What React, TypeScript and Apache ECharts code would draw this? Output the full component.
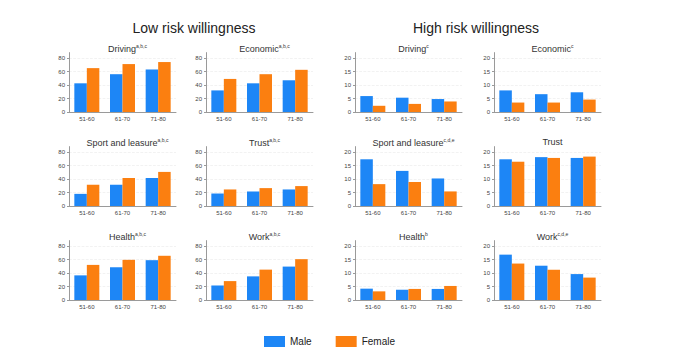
import React, { useEffect, useRef } from "react";
import * as echarts from "echarts";

const ageGroups = ["51-60", "61-70", "71-80"];

const lowDrivingMale = [42.5, 56, 63];
const lowDrivingFemale = [65, 71, 74];
const lowEconomicMale = [32, 42.5, 47];
const lowEconomicFemale = [49, 56, 62.5];
const lowSportMale = [18, 31.5, 41.5];
const lowSportFemale = [31.5, 41.5, 50.5];
const lowTrustMale = [18.5, 21.5, 24.5];
const lowTrustFemale = [24.5, 26.5, 29.5];
const lowHealthMale = [36.5, 48.5, 59];
const lowHealthFemale = [52, 59.5, 65.5];
const lowWorkMale = [21.5, 35, 49.5];
const lowWorkFemale = [28, 45, 60.5];

const highDrivingMale = [5.9, 5.3, 4.8];
const highDrivingFemale = [2.3, 3.0, 3.9];
const highEconomicMale = [8.0, 6.6, 7.3];
const highEconomicFemale = [3.5, 3.5, 4.6];
const highSportMale = [17.3, 13.0, 10.2];
const highSportFemale = [8.1, 8.9, 5.4];
const highTrustMale = [17.3, 18.1, 17.8];
const highTrustFemale = [16.4, 17.8, 18.3];
const highHealthMale = [4.2, 3.8, 4.1];
const highHealthFemale = [3.2, 4.1, 5.2];
const highWorkMale = [16.8, 12.7, 9.6];
const highWorkFemale = [13.5, 11.2, 8.3];

const lowTicks = [0, 20, 40, 60, 80];
const highTicks = [0, 5, 10, 15, 20];

const groupTitles = ["Low risk willingness", "High risk willingness"];
const seriesNames = ["Male", "Female"];

// panel: [title, superscript, male, female, group(0 low / 1 high), row, col]
const panels: [string, string, number[], number[], number, number, number][] = [
  ["Driving", "a,b,c", lowDrivingMale, lowDrivingFemale, 0, 0, 0],
  ["Economic", "a,b,c", lowEconomicMale, lowEconomicFemale, 0, 0, 1],
  ["Sport and leasure", "a,b,c", lowSportMale, lowSportFemale, 0, 1, 0],
  ["Trust", "a,b,c", lowTrustMale, lowTrustFemale, 0, 1, 1],
  ["Health", "a,b,c", lowHealthMale, lowHealthFemale, 0, 2, 0],
  ["Work", "a,b,c", lowWorkMale, lowWorkFemale, 0, 2, 1],
  ["Driving", "c", highDrivingMale, highDrivingFemale, 1, 0, 2],
  ["Economic", "c", highEconomicMale, highEconomicFemale, 1, 0, 3],
  ["Sport and leasure", "c,d,e", highSportMale, highSportFemale, 1, 1, 2],
  ["Trust", "", highTrustMale, highTrustFemale, 1, 1, 3],
  ["Health", "b", highHealthMale, highHealthFemale, 1, 2, 2],
  ["Work", "c,d,e", highWorkMale, highWorkFemale, 1, 2, 3],
];

const colLeft = [69, 206, 355, 494];
const rowZero = [112, 206, 300];
const plotW = 107;
const plotH = 59.4;
const BLUE = "#1d86f6";
const ORANGE = "#fb7f10";
const FONT = "Liberation Sans, Arial, sans-serif";

export default function App() {
  const ref = useRef<HTMLDivElement>(null);
  useEffect(() => {
    document.body.style.margin = "0";
    const chart = echarts.init(ref.current!, null, { renderer: "svg" });
    const grids: any[] = [];
    const xAxes: any[] = [];
    const yAxes: any[] = [];
    const series: any[] = [];
    const titles: any[] = [
      {
        text: groupTitles[0],
        left: 189,
        top: 16,
        textAlign: "center",
        textStyle: { fontSize: 14, fontWeight: "normal", color: "#222", fontFamily: FONT },
      },
      {
        text: groupTitles[1],
        left: 471,
        top: 16,
        textAlign: "center",
        textStyle: { fontSize: 14, fontWeight: "normal", color: "#222", fontFamily: FONT },
      },
    ];
    panels.forEach((p, i) => {
      const [name, sup, male, female, grp, row, col] = p;
      const left = colLeft[col];
      const top = rowZero[row] - plotH;
      grids.push({ left, top, width: plotW, height: plotH });
      const ticks = grp === 0 ? lowTicks : highTicks;
      const max = grp === 0 ? 88 : 22;
      titles.push({
        text: sup ? `{n|${name}}{s|${sup}}` : `{n|${name}}`,
        left: left + plotW / 2,
        top: top - 14,
        textAlign: "center",
        textStyle: {
          fontSize: 9,
          fontWeight: "normal",
          color: "#333",
          fontFamily: FONT,
          rich: {
            n: { fontSize: 9, color: "#333", fontFamily: FONT },
            s: { fontSize: 5, color: "#333", fontFamily: FONT, padding: [0, 0, 6, 0] },
          },
        },
      });
      xAxes.push({
        type: "category",
        gridIndex: i,
        data: ageGroups,
        axisLine: { lineStyle: { color: "#9a9a9a", width: 1 } },
        axisTick: { show: false },
        axisLabel: { fontSize: 6, color: "#444", margin: 4, fontFamily: FONT },
      });
      yAxes.push({
        type: "value",
        gridIndex: i,
        min: 0,
        max,
        axisLine: { show: true, lineStyle: { color: "#9a9a9a", width: 1 } },
        axisTick: { show: true, length: 2, customValues: ticks, lineStyle: { color: "#9a9a9a" } },
        axisLabel: { fontSize: 6, color: "#444", margin: 4, customValues: ticks, fontFamily: FONT },
        splitLine: { show: true, lineStyle: { color: "#ececec", type: "dashed", width: 0.7 } },
      });
      series.push({
        type: "bar",
        name: seriesNames[0],
        xAxisIndex: i,
        yAxisIndex: i,
        data: male,
        barWidth: 12.5,
        barGap: "0%",
        itemStyle: { color: BLUE },
      });
      series.push({
        type: "bar",
        name: seriesNames[1],
        xAxisIndex: i,
        yAxisIndex: i,
        data: female,
        barWidth: 12.5,
        barGap: "0%",
        itemStyle: { color: ORANGE },
      });
    });
    chart.setOption({
      animation: false,
      backgroundColor: "#ffffff",
      textStyle: { fontFamily: FONT },
      title: titles,
      grid: grids,
      xAxis: xAxes,
      yAxis: yAxes,
      series,
      legend: {
        data: seriesNames,
        left: 259,
        top: 331,
        itemWidth: 21,
        itemHeight: 11,
        itemGap: 24,
        icon: "rect",
        textStyle: { fontSize: 10, color: "#222", fontFamily: FONT },
      },
    });
    return () => chart.dispose();
  }, []);
  return <div ref={ref} style={{ width: 693, height: 360 }} />;
}
